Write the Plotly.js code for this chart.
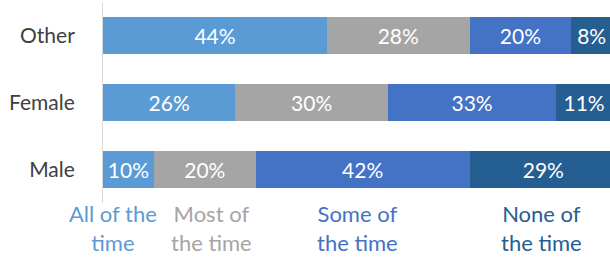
<!DOCTYPE html>
<html>
<head>
<meta charset="utf-8">
<script src="https://cdn.plot.ly/plotly-3.0.1.min.js"></script>
<style>html,body{margin:0;padding:0;background:#fff;}#chart{width:610px;height:258px;}</style>
</head>
<body>
<div id="chart"></div>
<script>
const categories = ["Male", "Female", "Other"];
const seriesNames = ["All of the time", "Most of the time", "Some of the time", "None of the time"];
const legendLabels = ["All of the<br>time", "Most of<br>the time", "Some of<br>the time", "None of<br>the time"];
const allOfTheTime = [10, 26, 44];
const mostOfTheTime = [20, 30, 28];
const someOfTheTime = [42, 33, 20];
const noneOfTheTime = [29, 11, 8];

const values = [allOfTheTime, mostOfTheTime, someOfTheTime, noneOfTheTime];
const colors = ["#5B9BD5", "#A5A5A5", "#4472C4", "#255E91"];
const legendX = [113, 211, 357, 541];
const FONT = "Lato, 'Open Sans', sans-serif";

const traces = values.map((v, i) => ({
  type: "bar",
  orientation: "h",
  name: seriesNames[i],
  y: categories,
  x: v,
  marker: {color: colors[i], line: {width: 0}},
  texttemplate: "%{x}%",
  textposition: "inside",
  insidetextanchor: "middle",
  textangle: 0,
  constraintext: "none",
  textfont: {color: "#ffffff", size: 21, family: FONT},
  hoverinfo: "skip"
}));

const annotations = legendLabels.map((t, i) => ({
  xref: "paper", yref: "paper",
  x: (legendX[i] - 103) / 507, y: 0.025,
  xanchor: "center", yanchor: "top",
  text: t, showarrow: false, align: "center",
  font: {color: colors[i], size: 22, family: FONT}
}));

const layout = {
  width: 610, height: 258,
  margin: {l: 103, r: 0, t: 2, b: 55, pad: 0},
  barmode: "stack",
  bargap: 0.44,
  showlegend: false,
  paper_bgcolor: "#ffffff",
  plot_bgcolor: "#ffffff",
  xaxis: {range: [0, 99.6], showgrid: false, zeroline: false, showticklabels: false, showline: false, fixedrange: true},
  yaxis: {showgrid: false, zeroline: false, showline: true, linecolor: "#D9D9D9", linewidth: 1,
          ticks: "", ticklabelstandoff: 23, tickfont: {size: 21, color: "#404040", family: FONT}},
  annotations: annotations,
  font: {family: FONT}
};

Plotly.newPlot("chart", traces, layout, {displayModeBar: false, staticPlot: true});
</script>
</body>
</html>
